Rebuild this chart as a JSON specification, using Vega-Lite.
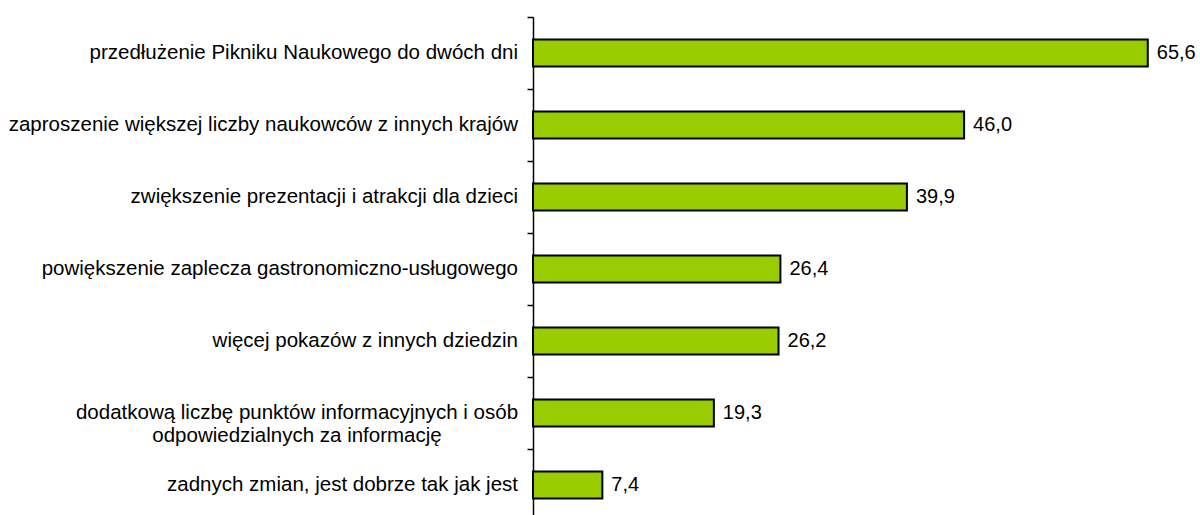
{
  "$schema": "https://vega.github.io/schema/vega-lite/v6.json",
  "autosize": "none",
  "width": 656,
  "height": 504,
  "padding": {"left": 533, "top": 17, "right": 11, "bottom": 0},
  "background": "white",
  "config": {
    "view": {"stroke": null},
    "locale": {"number": {"decimal": ",", "thousands": " ", "grouping": [3], "currency": ["", " zł"]}}
  },
  "data": {
    "values": [
      {"category": "przedłużenie Pikniku Naukowego do dwóch dni", "value": 65.6},
      {"category": "zaproszenie większej liczby naukowców z innych krajów", "value": 46.0},
      {"category": "zwiększenie prezentacji i atrakcji dla dzieci ", "value": 39.9},
      {"category": "powiększenie zaplecza gastronomiczno-usługowego", "value": 26.4},
      {"category": "więcej pokazów z innych dziedzin", "value": 26.2},
      {"category": "dodatkową liczbę punktów informacyjnych i osób odpowiedzialnych za informację", "value": 19.3},
      {"category": "zadnych zmian, jest dobrze tak jak jest", "value": 7.4}
    ]
  },
  "encoding": {
    "y": {
      "field": "category",
      "type": "nominal",
      "sort": {"field": "value", "op": "sum", "order": "descending"},
      "scale": {"paddingInner": 0, "paddingOuter": 0},
      "axis": {
        "title": null,
        "domainColor": "black",
        "domainWidth": 1.5,
        "tickColor": "black",
        "tickWidth": 1.5,
        "tickSize": 6,
        "tickBand": "extent",
        "labels": false
      }
    }
  },
  "layer": [
    {
      "mark": {"type": "bar", "size": 27, "fill": "#99CC00", "stroke": "black", "strokeWidth": 2},
      "encoding": {
        "x": {"field": "value", "type": "quantitative", "scale": {"domain": [0, 70], "nice": false}, "axis": null}
      }
    },
    {
      "mark": {"type": "text", "align": "left", "baseline": "middle", "dx": 9, "font": "Liberation Sans", "fontSize": 20, "color": "black"},
      "encoding": {
        "x": {"field": "value", "type": "quantitative"},
        "text": {"field": "value", "type": "quantitative", "format": ".1f"}
      }
    },
    {
      "mark": {
        "type": "text",
        "baseline": "middle",
        "font": "Liberation Sans",
        "fontSize": 20.5,
        "lineHeight": 23,
        "color": "black",
        "align": {"expr": "indexof(datum.category, 'osób ') > 0 ? 'center' : 'right'"},
        "dx": {"expr": "indexof(datum.category, 'osób ') > 0 ? -236 : -15"},
        "text": {"expr": "indexof(datum.category, 'osób ') > 0 ? split(replace(datum.category, 'osób ', 'osób|'), '|') : datum.category"}
      },
      "encoding": {
        "x": {"datum": 0, "type": "quantitative"}
      }
    }
  ]
}
